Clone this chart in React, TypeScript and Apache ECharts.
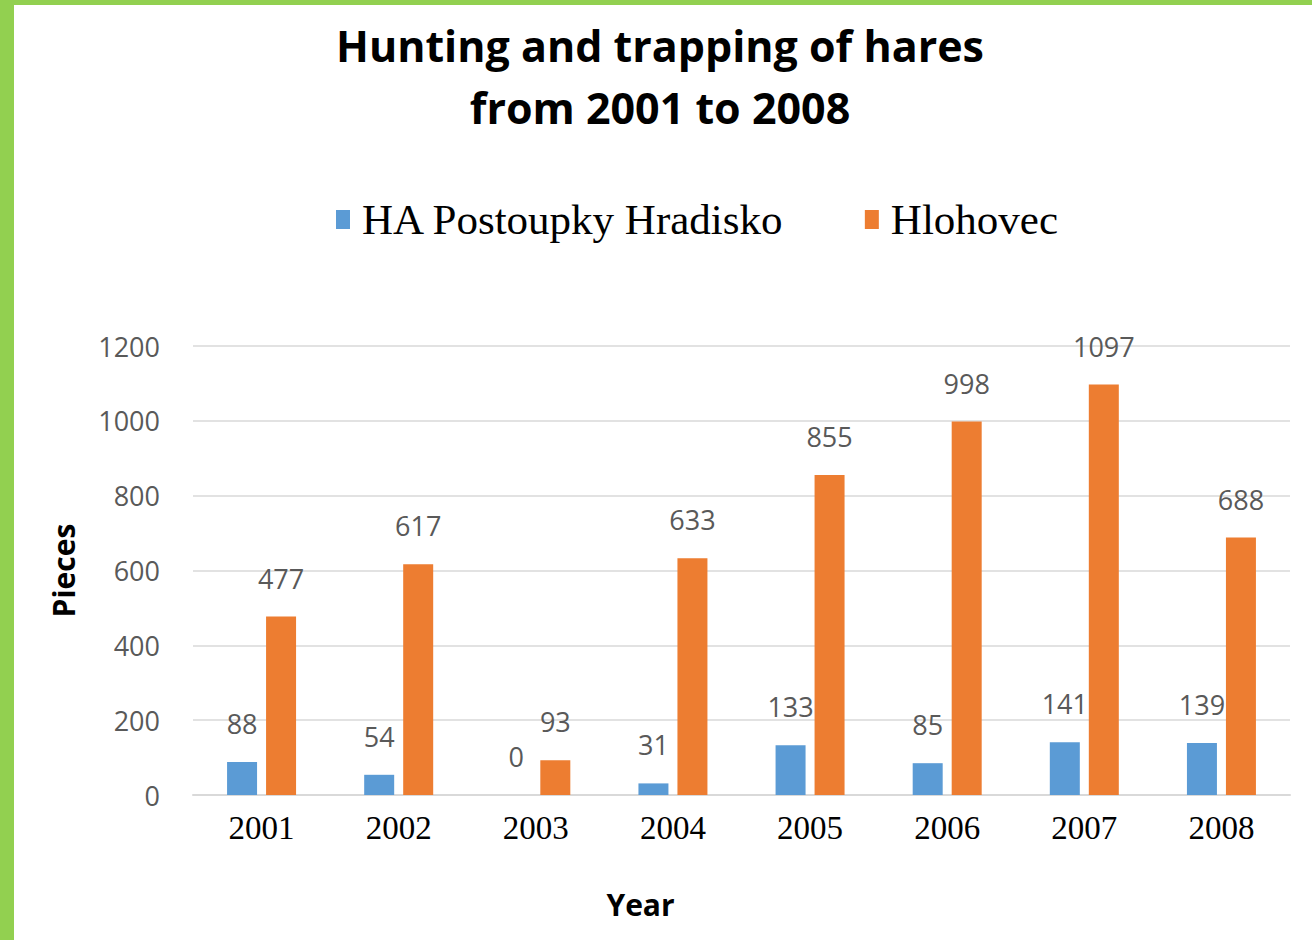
import React, { useEffect, useRef } from "react";
import * as echarts from "echarts";

const years = ["2001", "2002", "2003", "2004", "2005", "2006", "2007", "2008"];
const postoupky = [88, 54, 0, 31, 133, 85, 141, 139];
const hlohovec = [477, 617, 93, 633, 855, 998, 1097, 688];
const seriesNames = ["HA Postoupky Hradisko", "Hlohovec"];
const titleText = "Hunting and trapping of hares\nfrom 2001 to 2008";

export default function App() {
  const ref = useRef<HTMLDivElement>(null);
  useEffect(() => {
    if (!ref.current) return;
    const chart = echarts.init(ref.current, null, { renderer: "svg" });
    const labelStyle = {
      show: true,
      position: "top",
      distance: 25,
      color: "#595959",
      fontFamily: "Open Sans",
      fontSize: 27,
    };
    chart.setOption({
      animation: false,
      backgroundColor: "#ffffff",
      graphic: [
        { type: "rect", shape: { x: 0, y: 0, width: 14, height: 940 }, style: { fill: "#92D050" }, z: 100 },
        { type: "rect", shape: { x: 0, y: 0, width: 1312, height: 5 }, style: { fill: "#92D050" }, z: 100 },
      ],
      title: {
        text: titleText,
        left: 655,
        top: 9,
        textAlign: "center",
        textStyle: {
          fontFamily: "Open Sans",
          fontWeight: "bold",
          fontSize: 43,
          lineHeight: 62,
          color: "#000000",
        },
      },
      legend: {
        left: 331,
        top: 193,
        itemWidth: 14,
        itemHeight: 19,
        itemGap: 80,
        icon: "rect",
        textStyle: {
          fontFamily: "Liberation Serif",
          fontSize: 43,
          color: "#000000",
          padding: [0, 0, 0, 7],
        },
        data: seriesNames,
      },
      grid: { left: 193, right: 22, top: 346, bottom: 145 },
      xAxis: {
        type: "category",
        data: years,
        name: "Year",
        nameLocation: "middle",
        nameGap: 94,
        nameTextStyle: {
          fontFamily: "Open Sans",
          fontWeight: "bold",
          fontSize: 30,
          color: "#000000",
          padding: [0, 202, 0, 0],
        },
        axisLine: { lineStyle: { color: "#D9D9D9", width: 2 } },
        axisTick: { show: false },
        axisLabel: { fontFamily: "Liberation Serif", fontSize: 33, color: "#000000", margin: 16 },
      },
      yAxis: {
        type: "value",
        min: 0,
        max: 1200,
        interval: 200,
        name: "Pieces",
        nameLocation: "middle",
        nameGap: 115,
        nameRotate: 90,
        nameTextStyle: { fontFamily: "Open Sans", fontWeight: "bold", fontSize: 30, color: "#000000" },
        axisLine: { show: false },
        axisTick: { show: false },
        splitLine: { lineStyle: { color: "#D9D9D9", width: 1.5 } },
        axisLabel: {
          fontFamily: "Open Sans",
          fontSize: 27,
          color: "#595959",
          margin: 33,
          formatter: (v: number) => String(v),
        },
      },
      series: [
        {
          name: seriesNames[0],
          type: "bar",
          data: postoupky,
          barWidth: 30,
          barGap: "30%",
          itemStyle: { color: "#5B9BD5" },
          label: labelStyle,
        },
        {
          name: seriesNames[1],
          type: "bar",
          data: hlohovec,
          barWidth: 30,
          itemStyle: { color: "#ED7D31" },
          label: labelStyle,
        },
      ],
    });
    return () => chart.dispose();
  }, []);
  return (
    <div
      ref={ref}
      style={{ position: "fixed", left: 0, top: 0, width: 1312, height: 940 }}
    />
  );
}
